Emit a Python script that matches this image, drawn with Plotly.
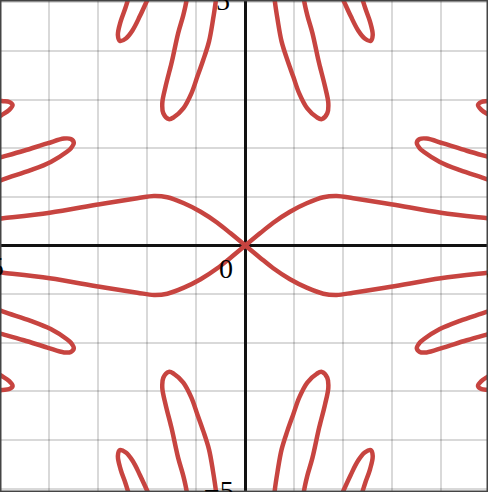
import numpy as np
import plotly.graph_objects as go

# Curve pieces read from the first quadrant (the graph is symmetric in x and y)
main_x = [0.0, 0.30, 0.571, 0.912, 1.253, 1.592, 1.865, 2.204, 2.97, 3.99, 4.94, 5.3]
main_y = [0.0, 0.25, 0.469, 0.695, 0.868, 0.992, 1.018, 0.971, 0.85, 0.675, 0.56, 0.52]

petal_a_x = [0.58, 0.60, 0.66, 0.74, 0.857, 0.98, 1.10, 1.265, 1.457, 1.56, 1.673, 1.694,
             1.627, 1.524, 1.49, 1.37, 1.265, 1.198, 1.17]
petal_a_y = [5.3, 5.05, 4.64, 4.2, 3.82, 3.47, 3.13, 2.82, 2.64, 2.60, 2.72, 2.93,
             3.27, 3.68, 3.82, 4.37, 4.74, 5.05, 5.3]

petal_b_x = [1.885, 2.0, 2.151, 2.30, 2.437, 2.559, 2.60, 2.545, 2.449, 2.396, 2.32]
petal_b_y = [5.3, 5.05, 4.72, 4.43, 4.26, 4.21, 4.33, 4.605, 4.88, 5.05, 5.3]

petal_c_x = [5.3, 4.94, 4.52, 4.04, 3.70, 3.56, 3.50, 3.56, 3.64, 3.97, 4.38, 4.94, 5.3]
petal_c_y = [1.73, 1.83, 1.95, 2.10, 2.20, 2.19, 2.115, 2.0, 1.93, 1.72, 1.55, 1.36, 1.22]

petal_d_x = [5.3, 4.97, 4.817, 4.749, 4.817, 4.97, 5.3]
petal_d_y = [3.03, 2.973, 2.953, 2.89, 2.79, 2.685, 2.5]

pieces = [(main_x, main_y), (petal_a_x, petal_a_y), (petal_b_x, petal_b_y),
          (petal_c_x, petal_c_y), (petal_d_x, petal_d_y)]
signs = [(1, 1), (-1, 1), (1, -1), (-1, -1)]

RED = "#c74440"
W, H = 488, 492
x_range = [-5.006, 4.953]
y_range = [-5.072, 5.051]

fig = go.Figure()
for px_, py_ in pieces:
    for sx, sy in signs:
        fig.add_trace(go.Scatter(
            x=np.array(px_) * sx, y=np.array(py_) * sy, mode="lines",
            line=dict(color=RED, width=4.5, shape="spline", smoothing=1.0),
            hoverinfo="skip", showlegend=False))

axis_common = dict(dtick=1, tick0=0, showgrid=True, gridcolor="rgba(0,0,0,0.15)", gridwidth=2,
                   zeroline=True, zerolinecolor="#111111", zerolinewidth=3,
                   showticklabels=False, ticks="", showline=False, fixedrange=True)
fig.update_layout(
    width=W, height=H, margin=dict(l=0, r=0, t=0, b=0),
    paper_bgcolor="white", plot_bgcolor="white",
    xaxis=dict(range=x_range, **axis_common),
    yaxis=dict(range=y_range, **axis_common),
)

def px2paper(px, py):
    return px / W, 1 - py / H

labels = [
    ("0", 235, 268, "right"),
    ("5", 232, 0, "right"),
    ("\u22125", 236, 490, "right"),
    ("\u22125", 6, 266, "right"),
    ("5", 484, 268, "left"),
]
for txt, px, py, anchor in labels:
    xp, yp = px2paper(px, py)
    fig.add_annotation(x=xp, y=yp, xref="paper", yref="paper", text=txt, showarrow=False,
                       xanchor=anchor, yanchor="middle",
                       font=dict(family="Liberation Serif", size=28, color="#000000"))

fig.add_shape(type="rect", xref="paper", yref="paper", x0=0, y0=0, x1=1, y1=1,
              line=dict(color="#444444", width=3), layer="above")

fig.write_html("out.html", config={"displayModeBar": False},
               post_script="document.body.style.margin='0';document.body.style.overflow='hidden';")
